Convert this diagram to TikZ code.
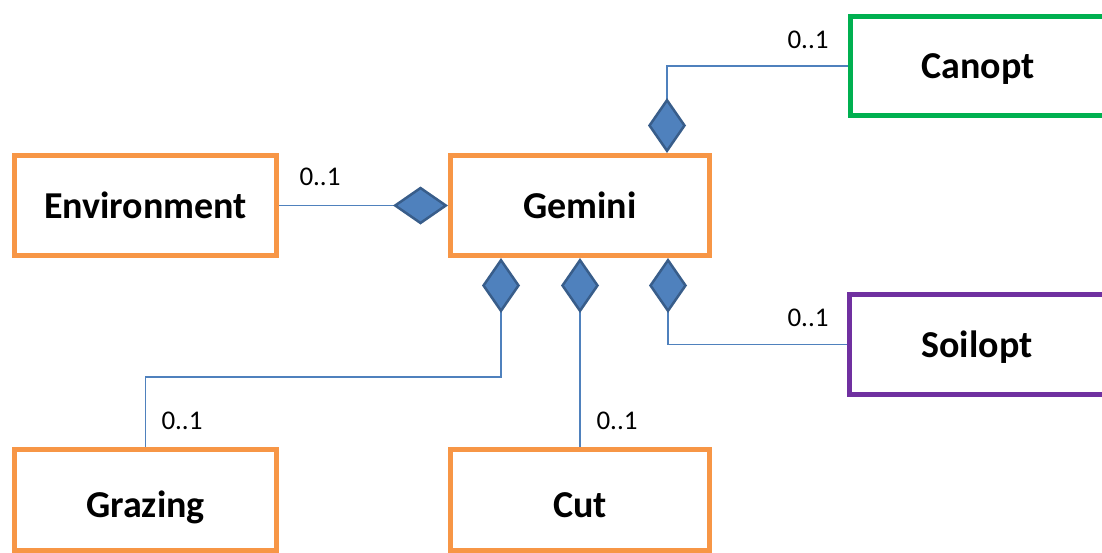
\documentclass[tikz,border=0pt]{standalone}
\usepackage{fontspec}
\setmainfont{Carlito}
\usetikzlibrary{arrows.meta,calc}
\definecolor{umlorange}{HTML}{F79646}
\definecolor{umlgreen}{HTML}{00B050}
\definecolor{umlpurple}{HTML}{7030A0}
\definecolor{linkblue}{HTML}{4F81BD}
\definecolor{diafill}{HTML}{4F81BD}
\definecolor{diaedge}{HTML}{385D8A}
\tikzset{
  classbox/.style={draw, line width=5pt, fill=white, rectangle,
    minimum width=#1, minimum height=100pt, inner sep=0pt,
    text height=25pt, text depth=0pt,
    font=\fontsize{38}{40}\selectfont\bfseries},
  classbox/.default=262pt,
  lowtext/.style={text height=36pt},
  mult/.style={font=\fontsize{27}{29}\selectfont, inner sep=0pt},
  comp/.style={draw=linkblue, line width=1.2pt,
    -{Diamond[length=55pt,width=38pt,fill=diafill,color=diaedge,line width=2.5pt]}}
}
\begin{document}
\begin{tikzpicture}[x=1pt,y=-1pt]
\useasboundingbox (0,0) rectangle (1102,552);
\clip (0,0) rectangle (1102,552);

% classes
\node[classbox, draw=umlorange] (env) at (145.5,205.5) {Environment};
\node[classbox=259pt, draw=umlorange] (gem) at (580,205.5) {Gemini};
\node[classbox=256pt, draw=umlgreen, minimum height=99pt] (can) at (978,66) {Canopt};
\node[classbox=256pt, draw=umlpurple] (soil) at (977,344.5) {Soilopt};
\node[classbox, lowtext, draw=umlorange, minimum height=101pt] (graz) at (145.5,499.5) {Grazing};
\node[classbox=259pt, lowtext, draw=umlorange, minimum height=101pt] (cut) at (580,499.5) {Cut};

% attachment points on Gemini
\coordinate (gtop) at ($(gem.north)+(87,0)$);
\coordinate (gb1) at ($(gem.south)+(-79,0)$);
\coordinate (gb3) at ($(gem.south)+(88,0)$);
\coordinate (gbend) at ($(gb1)+(0,119)$);

% composition links
\draw[comp] (env.east) -- (gem.west);
\draw[comp] (can.west) -| (gtop);
\draw[comp] (graz.north) |- (gbend) -- (gb1);
\draw[comp] (cut.north) -- (gem.south);
\draw[comp] (soil.west) -| (gb3);

% multiplicities
\node[mult] (menv) at (320,177) {0..1};
\node[mult] (mcan) at (808,40) {0..1};
\node[mult] (msoil) at (808,318) {0..1};
\node[mult] (mgraz) at (182,421) {0..1};
\node[mult] (mcut) at (617,421) {0..1};
\end{tikzpicture}
\end{document}
